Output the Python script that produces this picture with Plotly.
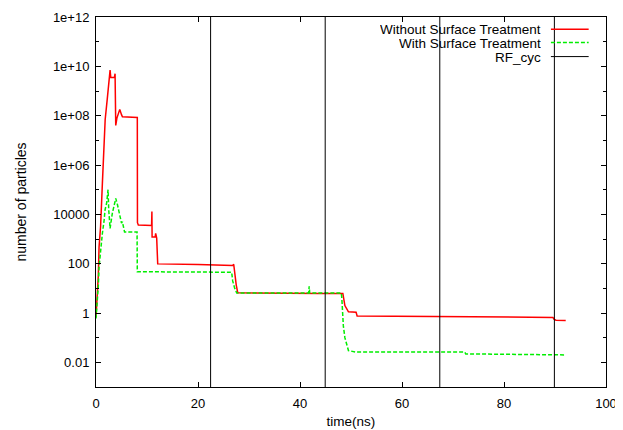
import plotly.graph_objects as go

# ---- data ----
t_without = [0, 0.15, 0.26, 0.45, 0.6, 0.9, 1.25, 1.6, 1.8, 2.2, 2.56, 2.76, 2.9, 3.2, 3.6, 3.74,
             3.87, 4.1, 4.33, 4.66, 5.0, 5.18, 8.1, 8.13, 8.3, 10.9, 10.96, 11.0, 11.6, 11.7, 11.9,
             12.07, 12.1, 20, 26.8, 27.0, 27.2, 27.5, 27.8, 35, 44, 48.4, 48.6, 48.8, 49.5, 51.0,
             51.2, 60, 70, 80, 89.6, 89.8, 90.2, 92.1]
n_without = [0.68, 2.0, 8.3, 32, 480, 3200, 1.8e5, 4e6, 7e7, 4.6e8, 3e9, 7e9, 3.5e9, 3.5e9, 3.5e9, 5e9,
             4e7, 8e7, 1.25e8, 1.8e8, 1.1e8, 9e7, 8.5e7, 4600, 3700, 3500, 1.3e4, 1200, 1200, 1700, 1100,
             100, 98, 93, 85, 95, 32, 13.5, 6.6, 6.3, 6.2, 6.2, 2.8, 2.0, 1.12, 1.07,
             0.76, 0.74, 0.71, 0.69, 0.66, 0.56, 0.51, 0.5]

t_with = [0, 0.26, 0.45, 0.6, 0.93, 1.25, 1.6, 1.77, 2.1, 2.36, 2.5, 2.76, 3.2, 3.87, 4.2, 4.53,
          5.0, 5.18, 5.6, 8.05, 8.1, 26.6, 26.8, 27.2, 27.6, 41.7, 41.8, 41.9, 48.1, 48.2, 48.5,
          48.8, 49.5, 51.0, 72.3, 72.5, 91.8]
n_with = [0.6, 3.2, 12, 74, 480, 1700, 5900, 1.5e4, 3e4, 1e5, 1.5e4, 2700, 1.1e4, 4.4e4, 2.5e4, 1.1e4,
          4400, 5000, 1900, 1900, 47, 45, 20, 10, 6.5, 6.5, 12, 6.5, 6.5, 4, 0.3,
          0.1, 0.03, 0.026, 0.026, 0.022, 0.02]

rf_cycles = [22.47, 44.94, 67.41, 89.88]

y_tickvals = [1e-2, 1, 1e2, 1e4, 1e6, 1e8, 1e10, 1e12]
y_ticktext = ["0.01", "1", "100", "10000", "1e+06", "1e+08", "1e+10", "1e+12"]
x_tickvals = [0, 20, 40, 60, 80, 100]

legend_labels = ["Without Surface Treatment", "With Surface Treatment", "RF_cyc"]

Y_MIN, Y_MAX = 1e-3, 1e12

fig = go.Figure()

fig.add_trace(go.Scatter(x=t_without, y=n_without, mode="lines",
                         line=dict(color="#ff0000", width=1.5), name=legend_labels[0]))
fig.add_trace(go.Scatter(x=t_with, y=n_with, mode="lines",
                         line=dict(color="#00ee00", width=1.5, dash="4px,2px"), name=legend_labels[1]))

rx, ry = [], []
for c in rf_cycles:
    rx += [c, c, None]
    ry += [Y_MIN, Y_MAX, None]
fig.add_trace(go.Scatter(x=rx, y=ry, mode="lines", line=dict(color="black", width=1),
                         name=legend_labels[2], connectgaps=False))

# gnuplot-style key: text right-aligned, line sample to its right
key_rows = [0.967, 0.931, 0.893]
key_styles = [dict(color="#ff0000", width=1.5), dict(color="#00ee00", width=1.5, dash="4px,2px"),
              dict(color="black", width=1)]
for lab, yy, st in zip(legend_labels, key_rows, key_styles):
    fig.add_annotation(x=0.874, y=yy, xref="paper", yref="paper", text=lab, showarrow=False,
                       xanchor="right", yanchor="middle", height=16, valign="middle", borderpad=0,
                       font=dict(size=13.5, color="black"))
    fig.add_shape(type="line", xref="paper", yref="paper", x0=0.892, x1=0.966, y0=yy, y1=yy,
                  line=st)

axis_common = dict(showline=True, linecolor="black", linewidth=1, mirror="ticks", ticks="inside",
                   tickcolor="black", ticklen=5, showgrid=False, zeroline=False, automargin=False,
                   tickfont=dict(size=13, color="black"))

fig.update_xaxes(range=[0, 100], tickvals=x_tickvals, ticklabelstandoff=4,
                 title=dict(text="time(ns)", standoff=6, font=dict(size=13.5, color="black")),
                 **axis_common)
fig.update_yaxes(type="log", range=[-3, 12], tickvals=y_tickvals, ticktext=y_ticktext,
                 ticklabelstandoff=3,
                 minor=dict(ticks="inside", dtick=1, ticklen=3, tickcolor="black"),
                 title=dict(text="number of particles", standoff=22, font=dict(size=14, color="black")),
                 **axis_common)

# page body adds an 8px offset, so the figure is 8px smaller and margins compensate
fig.update_layout(width=615, height=422, showlegend=False,
                  margin=dict(l=88, r=17, t=9, b=43),
                  paper_bgcolor="white", plot_bgcolor="white",
                  font=dict(family="Liberation Sans, Arial, sans-serif", size=13, color="black"))

fig.write_html("out.html")
